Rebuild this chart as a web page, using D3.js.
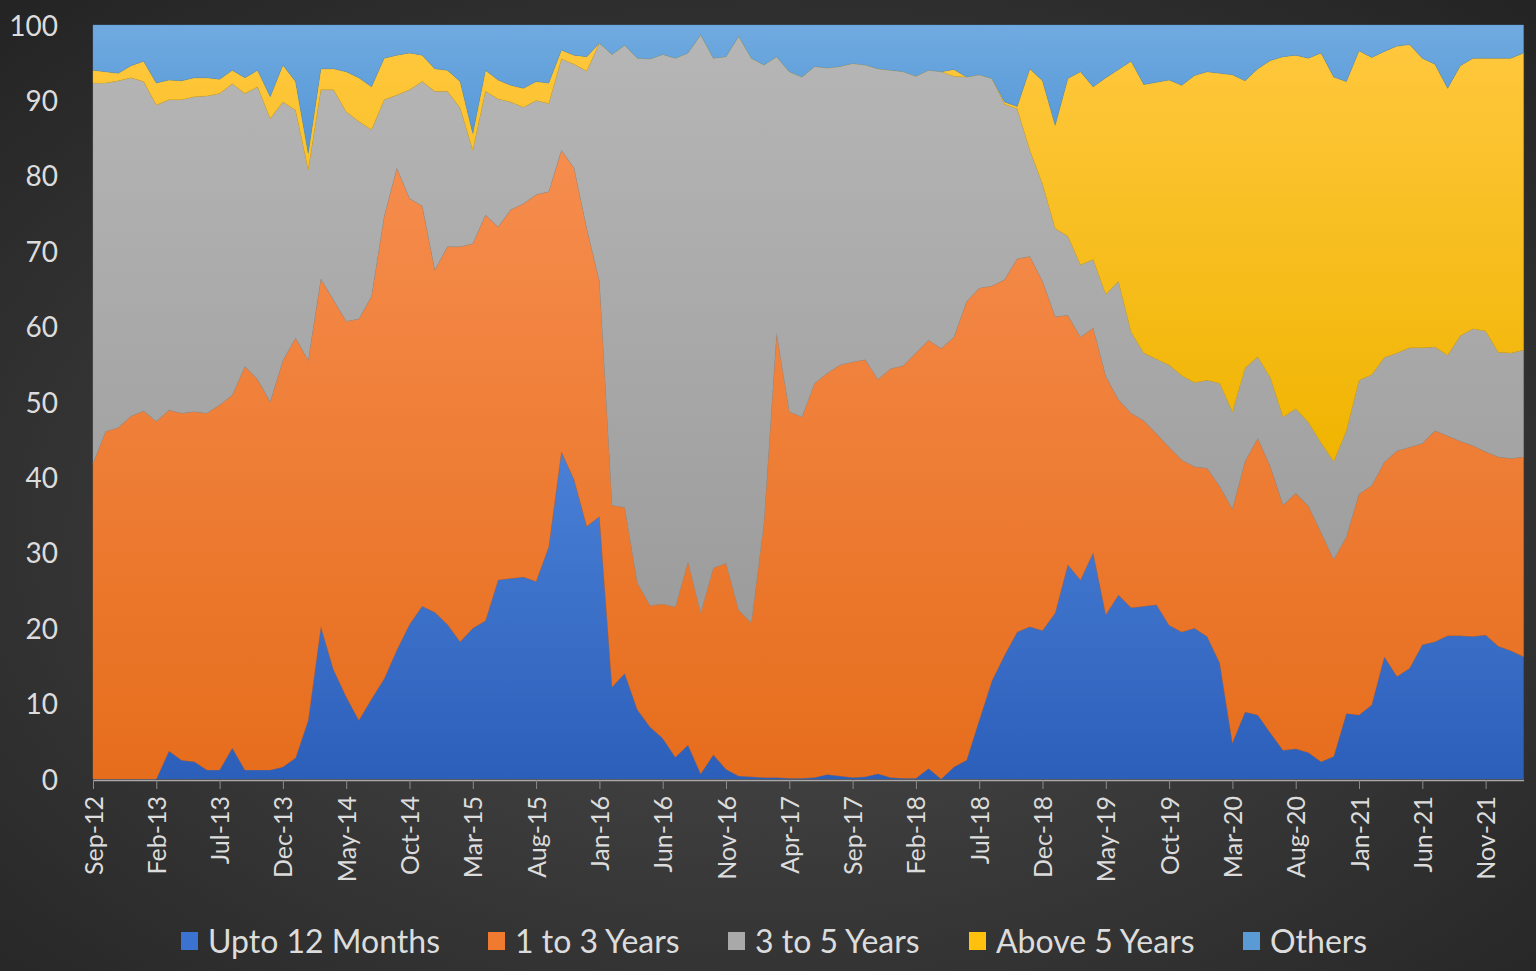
<!DOCTYPE html>
<html>
<head>
<meta charset="utf-8">
<script src="https://cdn.jsdelivr.net/npm/d3@7"></script>
<style>
html,body{margin:0;padding:0;background:#2b2b2b;}
svg{display:block;}
</style>
</head>
<body>
<svg id="chart" width="1536" height="971"></svg>
<script>
// ---- DATA (monthly, Sep-12 .. Feb-22), % share ----
const startMonth = new Date(2012, 8, 1);
const endMonth = new Date(2022, 2, 1); // exclusive
const months = d3.timeMonth.range(startMonth, endMonth).map(d3.timeFormat("%b-%y"));

const seriesNames = ["Upto 12 Months", "1 to 3 Years", "3 to 5 Years", "Above 5 Years", "Others"];

const upto12 = [0,0,0,0,0,0,3.7,2.5,2.3,1.2,1.2,4.1,1.2,1.2,1.2,1.6,2.8,7.8,20.2,14.5,
10.9,7.8,10.6,13.3,17.1,20.5,22.9,22.1,20.5,18.2,20.0,21.0,26.4,26.6,26.8,26.2,30.8,43.4,39.7,33.5,
34.8,12.2,14.0,9.2,6.9,5.4,2.9,4.5,0.7,3.2,1.3,0.4,0.3,0.2,0.2,0.1,0.1,0.2,0.6,0.4,
0.2,0.3,0.7,0.2,0.1,0.1,1.4,0.0,1.6,2.5,7.8,13.0,16.4,19.5,20.2,19.7,22.0,28.4,26.4,30.0,
21.8,24.4,22.7,22.9,23.1,20.4,19.5,20.0,18.9,15.4,4.8,8.9,8.5,6.1,3.8,4.0,3.5,2.3,3.0,8.7,
8.5,9.8,16.2,13.6,14.7,17.8,18.2,19.0,19.0,18.9,19.1,17.6,17.0,16.2];

const oneToThree = [41.8,46.1,46.6,48.1,48.8,47.4,45.2,46.0,46.4,47.3,48.4,46.8,53.5,51.8,48.8,53.9,55.7,47.7,46.1,49.0,
49.8,53.2,53.4,61.3,63.9,56.5,53.1,45.4,50.1,52.4,51.0,53.8,46.8,48.9,49.5,51.3,47.1,40.0,41.3,39.5,
31.2,24.1,22.0,16.8,16.1,17.8,19.9,24.3,21.3,24.8,27.3,22.0,20.4,33.8,58.9,48.6,47.9,52.3,53.2,54.5,
55.1,55.3,52.3,54.2,54.7,56.4,56.8,57.1,57.0,60.8,57.3,52.4,49.8,49.5,49.1,46.3,39.3,33.1,32.2,29.8,
31.6,25.9,25.8,24.6,22.7,23.6,22.8,21.4,22.3,23.4,31.0,33.2,36.7,35.3,32.5,33.9,32.7,30.4,26.1,23.4,
29.3,29.1,25.8,29.9,29.3,26.7,28.0,26.5,25.8,25.3,24.3,25.1,25.5,26.5];

const threeToFive = [50.5,46.2,46.0,44.9,43.7,42.0,41.2,41.6,41.8,42.1,41.3,41.3,36.2,38.8,37.6,34.3,30.2,25.3,25.1,27.9,
27.8,26.2,22.1,15.5,9.7,14.4,16.5,23.7,20.6,18.4,12.4,16.4,17.0,14.3,12.8,12.5,11.7,12.1,13.8,20.9,
31.6,59.8,61.3,69.6,72.5,72.9,72.8,67.5,76.7,67.6,67.2,76.1,74.9,60.7,36.7,45.1,45.1,42.0,40.5,39.6,
39.6,39.1,41.2,39.6,39.0,36.7,35.8,36.7,34.6,29.8,28.3,27.5,23.3,19.9,14.1,12.9,11.7,10.5,9.6,9.1,
10.9,15.7,10.8,9.0,9.9,10.9,11.2,11.2,11.7,13.7,12.9,12.4,10.8,11.8,11.7,11.2,11.1,11.9,13.0,14.1,
15.1,14.7,13.9,13.0,13.2,12.7,11.1,10.7,14.0,15.5,16.0,13.9,14.0,14.2];

const aboveFive = [1.7,1.5,1.0,1.6,2.7,2.9,2.6,2.5,2.5,2.4,1.9,1.8,2.1,2.2,2.9,4.9,3.8,2.2,2.8,2.8,
5.3,5.8,5.7,5.5,5.3,4.9,3.5,3.0,2.8,3.5,2.2,2.8,2.5,2.2,2.5,2.5,2.7,1.2,1.2,1.9,
0,0,0,0,0,0,0,0,0,0,0,0,0,0,0,0,0,0,0,0,
0,0,0,0,0,0,0,0,0.9,0,0,0,0.3,0.3,10.8,13.7,13.7,20.9,25.6,22.9,
28.7,28.1,35.9,35.6,36.7,37.8,38.5,40.7,40.9,41.1,44.7,38.1,38.2,42.1,47.8,46.9,48.3,51.7,51.0,46.3,
43.7,42.1,40.6,40.7,40.2,38.4,37.5,35.4,35.8,35.9,36.2,39.0,39.1,39.4];

const others = [6.0,6.2,6.4,5.4,4.8,7.7,7.3,7.4,7.0,7.0,7.2,6.0,7.0,6.0,9.5,5.3,7.5,17.0,5.8,5.8,
6.2,7.0,8.2,4.4,4.0,3.7,4.0,5.8,6.0,7.5,14.4,6.0,7.3,8.0,8.4,7.5,7.7,3.3,4.0,4.2,
2.4,3.9,2.7,4.4,4.5,3.9,4.4,3.7,1.3,4.4,4.2,1.5,4.4,5.3,4.2,6.2,6.9,5.5,5.7,5.5,
5.1,5.3,5.8,6.0,6.2,6.8,6.0,6.2,5.9,6.9,6.6,7.1,10.2,10.8,5.8,7.4,13.3,7.1,6.2,8.2,
7.0,5.9,4.8,7.9,7.6,7.3,8.0,6.7,6.2,6.4,6.6,7.4,5.8,4.7,4.2,4.0,4.4,3.7,6.9,7.5,
3.4,4.3,3.5,2.8,2.6,4.4,5.2,8.4,5.4,4.4,4.4,4.4,4.4,3.7];

const yTicks = [0,10,20,30,40,50,60,70,80,90,100];
const tickEvery = 5; // x tick label every 5 months

// ---- STYLE ----
const colors = {
  "Upto 12 Months": ["#4a80d6", "#2c5fba"],
  "1 to 3 Years":   ["#f68d4e", "#e66d1c"],
  "3 to 5 Years":   ["#b6b6b6", "#9c9c9c"],
  "Above 5 Years":  ["#ffc83e", "#f0b400"],
  "Others":         ["#70aae0", "#5296d6"]
};
const legendSwatch = {
  "Upto 12 Months": "#3d73d0",
  "1 to 3 Years": "#f07a30",
  "3 to 5 Years": "#a9a9a9",
  "Above 5 Years": "#ffc10e",
  "Others": "#5b9bd5"
};

const svg = d3.select("#chart");
const W = 1536, H = 971;
const plot = {left: 93, right: 1523.6, top: 25, bottom: 779};

const defs = svg.append("defs");
const bg = defs.append("radialGradient").attr("id","bg").attr("cx","50%").attr("cy","55%").attr("r","75%");
bg.append("stop").attr("offset","0%").attr("stop-color","#4d4d4d");
bg.append("stop").attr("offset","100%").attr("stop-color","#232323");
svg.append("rect").attr("width",W).attr("height",H).attr("fill","url(#bg)");

seriesNames.forEach((n,i)=>{
  const g = defs.append("linearGradient").attr("id","g"+i).attr("x1",0).attr("y1",0).attr("x2",0).attr("y2",1);
  g.append("stop").attr("offset","0%").attr("stop-color",colors[n][0]);
  g.append("stop").attr("offset","100%").attr("stop-color",colors[n][1]);
});

const rows = months.map((m,i)=>({
  month: m,
  "Upto 12 Months": upto12[i],
  "1 to 3 Years": oneToThree[i],
  "3 to 5 Years": threeToFive[i],
  "Above 5 Years": aboveFive[i],
  "Others": others[i]
}));

const x = d3.scalePoint().domain(months).range([plot.left, plot.right]);
const y = d3.scaleLinear().domain([0,100]).range([plot.bottom, plot.top]);

const stack = d3.stack().keys(seriesNames);
const layers = stack(rows);

const area = d3.area()
  .x(d=>x(d.data.month))
  .y0(d=>y(d[0]))
  .y1(d=>y(Math.min(100,d[1])))
  .curve(d3.curveLinear);

svg.append("g").selectAll("path").data(layers).join("path")
  .attr("d", area)
  .attr("fill",(d,i)=>"url(#g"+i+")")
  .attr("stroke",(d,i)=>colors[d.key][1])
  .attr("stroke-width",0.6)
  .attr("stroke-opacity",0.6);

// x axis
const tickMonths = months.filter((m,i)=>i % tickEvery === 0);
const xAxis = d3.axisBottom(x).tickValues(tickMonths).tickSize(9).tickSizeOuter(0).tickPadding(6);
const gx = svg.append("g").attr("transform",`translate(0,${plot.bottom+1})`).call(xAxis);
gx.select(".domain").attr("stroke","#a8a8a8").attr("stroke-width",1.5);
gx.selectAll(".tick line").attr("stroke","#8c8c8c");
gx.selectAll(".tick text")
  .attr("fill","#dcdcdc")
  .style("font-family","Lato, 'Open Sans', sans-serif")
  .style("font-size","25px")
  .attr("text-anchor","end")
  .attr("transform","rotate(-90)")
  .attr("x",-16)
  .attr("y",0)
  .attr("dy","0.36em");

// y axis
const yAxis = d3.axisLeft(y).tickValues(yTicks).tickSize(0).tickPadding(0);
const gy = svg.append("g").attr("transform",`translate(${58},0)`).call(yAxis);
gy.select(".domain").remove();
gy.selectAll(".tick text")
  .attr("fill","#dcdcdc")
  .style("font-family","Lato, 'Open Sans', sans-serif")
  .style("font-size","28px")
  .attr("dy","0.36em");

// legend
const legendX = [181, 488, 728, 969, 1243];
const leg = svg.append("g");
seriesNames.forEach((n,i)=>{
  const g = leg.append("g").attr("transform",`translate(${legendX[i]},941)`);
  g.append("rect").attr("x",0).attr("y",-9).attr("width",17).attr("height",18).attr("fill",legendSwatch[n]);
  g.append("text").attr("x",27).attr("y",0).attr("dy","0.36em")
    .attr("fill","#dcdcdc")
    .style("font-family","Lato, 'Open Sans', sans-serif")
    .style("font-size","32px")
    .text(n);
});
</script>
</body>
</html>
